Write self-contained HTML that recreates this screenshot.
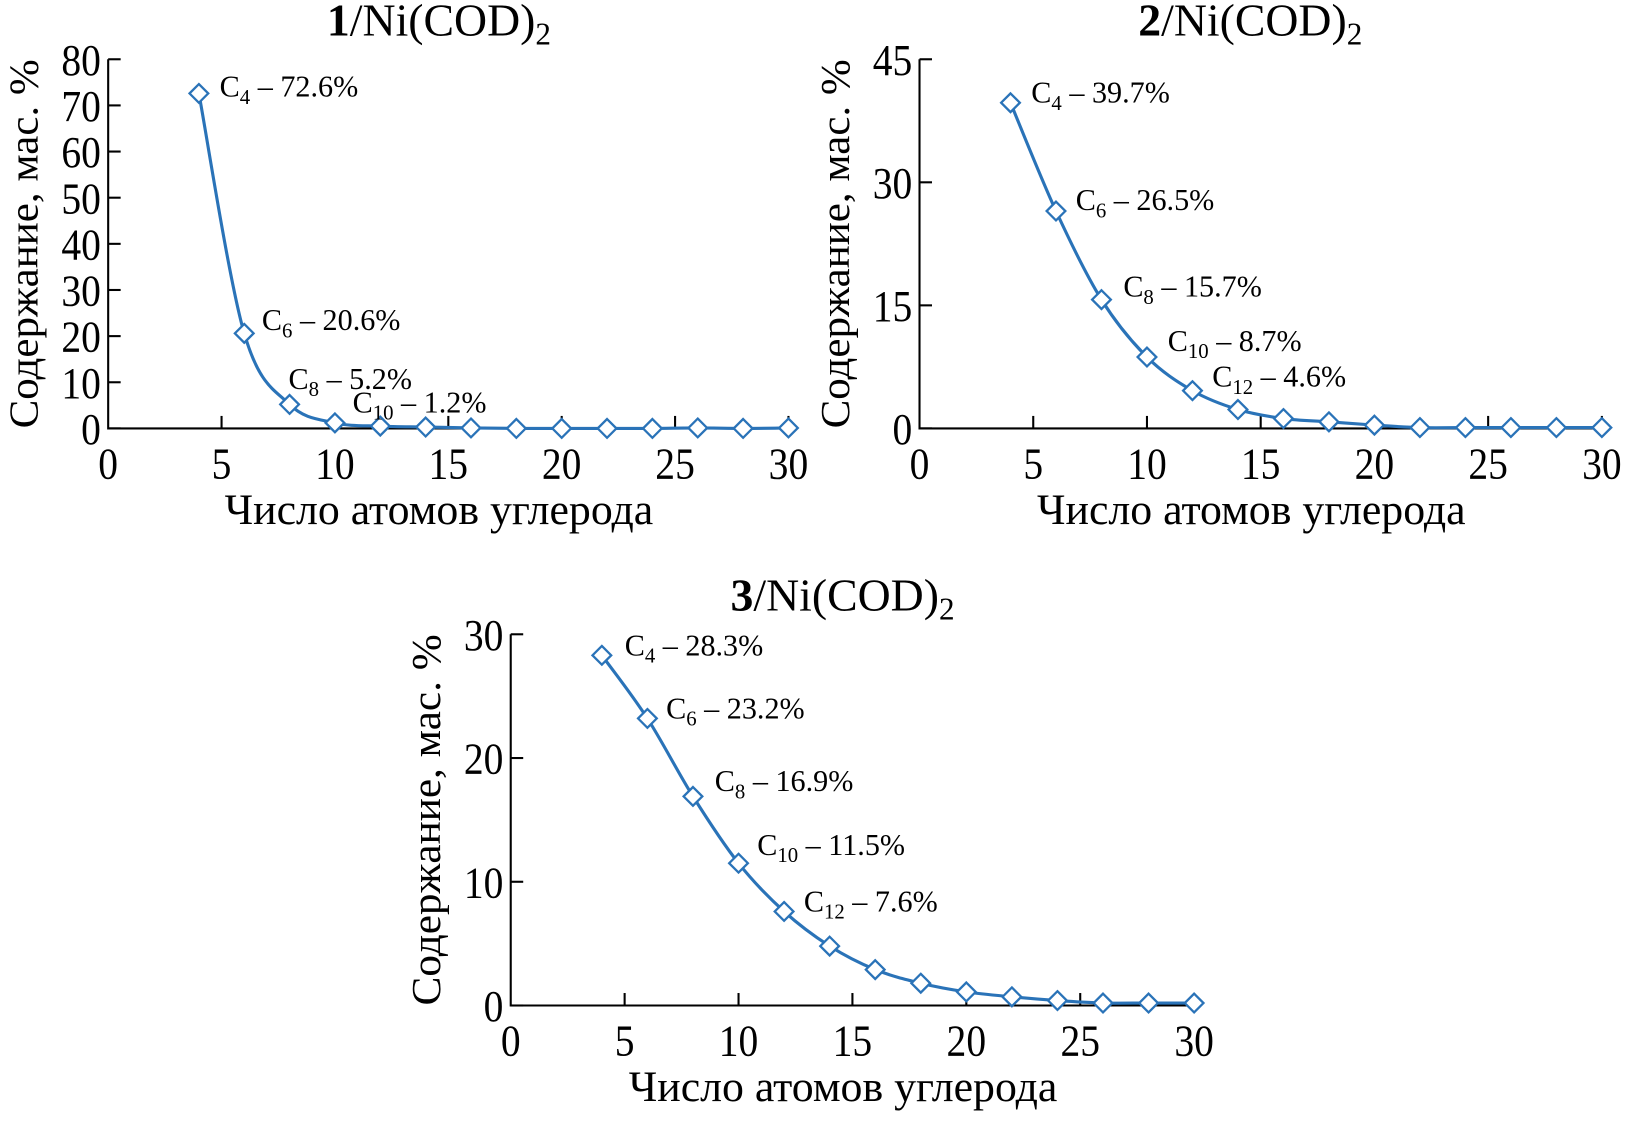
<!DOCTYPE html>
<html><head><meta charset="utf-8"><style>
html,body{margin:0;padding:0;background:#fff;}
svg{display:block;font-family:"Liberation Serif",serif;}
</style></head><body>
<svg id="fig" width="1631" height="1123" viewBox="0 0 1568 1080" preserveAspectRatio="none"></svg>
<script>
const carbonNumbers=[4,6,8,10,12,14,16,18,20,22,24,26,28,30];
const series1=[72.6,20.6,5.2,1.2,0.5,0.3,0.1,0,0,0,0,0.1,0,0.1];
const series2=[39.7,26.5,15.7,8.7,4.6,2.3,1.2,0.8,0.4,0.1,0.1,0.1,0.1,0.1];
const series3=[28.3,23.2,16.9,11.5,7.6,4.8,2.9,1.8,1.1,0.7,0.4,0.2,0.2,0.2];
const xTicks=[0,5,10,15,20,25,30];
const yTicks1=[0,10,20,30,40,50,60,70,80];
const yTicks2=[0,15,30,45];
const yTicks3=[0,10,20,30];
const labels1=[["4","72.6"],["6","20.6"],["8","5.2"],["10","1.2"]];
const labels2=[["4","39.7"],["6","26.5"],["8","15.7"],["10","8.7"],["12","4.6"]];
const labels3=[["4","28.3"],["6","23.2"],["8","16.9"],["10","11.5"],["12","7.6"]];

const NS="http://www.w3.org/2000/svg";
const svg=document.getElementById('fig');
const BLUE="#2a73b8";
function mk(tag,attrs,parent){const e=document.createElementNS(NS,tag);for(const k in attrs)e.setAttribute(k,attrs[k]);(parent||svg).appendChild(e);return e;}

const panels=[
 {id:"1",x0:104,x1:758,y0:412,yTop:57,ymax:80,ticks:yTicks1,data:series1,labels:labels1,
  offs:[[20,3],[17,-3],[-1,-15],[17,-10]],ylabX:36,titleX:422},
 {id:"2",x0:884,x1:1540,y0:412,yTop:57,ymax:45,ticks:yTicks2,data:series2,labels:labels2,
  offs:[[20,0],[19,-1],[21,-3],[20,-6],[19,-4]],ylabX:816,titleX:1202},
 {id:"3",x0:491,x1:1148,y0:967,yTop:610,ymax:30,ticks:yTicks3,data:series3,labels:labels3,
  offs:[[22,0],[18,0],[21,-5],[18,-8],[19,0]],ylabX:423,titleX:810}
];

panels.forEach(p=>{
  const g=mk('g',{});
  
  
  const xs=v=>p.x0+(v/30)*(p.x1-p.x0);
  const ys=v=>p.y0-(v/p.ymax)*(p.y0-p.yTop);
  const t=mk('text',{x:p.titleX,y:p.yTop-23,'text-anchor':'middle','font-size':44},g);
  
  
  t.innerHTML='<tspan font-weight="bold">'+p.id+'</tspan>/Ni(COD)<tspan font-size="30" dy="9">2</tspan>';
  const ax=mk('path',{d:`M${p.x0},${p.yTop} L${p.x0},${p.y0} L${p.x1+2},${p.y0}`,stroke:'#000','stroke-width':2,fill:'none'},g);
  
  
  p.ticks.forEach(v=>{
    const y=ys(v);
    const tk=mk('line',{x1:p.x0,x2:p.x0+12,y1:y,y2:y,stroke:'#000','stroke-width':2},g);
    
    
    const s=String(v);
    const tl=mk('text',{x:p.x0-7,y:y+15,'text-anchor':'end','font-size':43,textLength:s.length*19,lengthAdjust:'spacingAndGlyphs'},g);
    
    
    tl.textContent=s;
  });
  xTicks.forEach(v=>{
    const x=xs(v);
    if(v>0){const tk=mk('line',{x1:x,x2:x,y1:p.y0,y2:p.y0-12,stroke:'#000','stroke-width':2},g);
    
    }
    const s=String(v);
    const tl=mk('text',{x:x,y:p.y0+48,'text-anchor':'middle','font-size':43,textLength:s.length*19,lengthAdjust:'spacingAndGlyphs'},g);
    
    
    tl.textContent=s;
  });
  const xt=mk('text',{x:(p.x0+p.x1)/2-9,y:p.y0+92,'text-anchor':'middle','font-size':42,textLength:412,lengthAdjust:'spacingAndGlyphs'},g);
  
  
  xt.textContent='Число атомов углерода';
  const yc=(p.y0+p.yTop)/2;
  const yt=mk('text',{x:0,y:0,'text-anchor':'middle','font-size':40,textLength:p.y0-p.yTop,lengthAdjust:'spacingAndGlyphs',transform:`translate(${p.ylabX},${yc}) rotate(-90)`},g);
  
  
  yt.textContent='Содержание, мас. %';
  const pts=carbonNumbers.map((c,i)=>[xs(c),ys(p.data[i])]);
  let d=`M${pts[0][0]},${pts[0][1]}`;
  for(let i=0;i<pts.length-1;i++){
    const p0=pts[Math.max(0,i-1)],p1=pts[i],p2=pts[i+1],p3=pts[Math.min(pts.length-1,i+2)];
    const c1=[p1[0]+(p2[0]-p0[0])/6,p1[1]+(p2[1]-p0[1])/6];
    const c2=[p2[0]-(p3[0]-p1[0])/6,p2[1]-(p3[1]-p1[1])/6];
    d+=` C${c1[0]},${c1[1]} ${c2[0]},${c2[1]} ${p2[0]},${p2[1]}`;
  }
  const ln=mk('path',{d:d,stroke:BLUE,'stroke-width':3,fill:'none'},g);
  
  
  pts.forEach(pt=>{
    const s=9;
    const m=mk('path',{d:`M${pt[0]},${pt[1]-s} L${pt[0]+s},${pt[1]} L${pt[0]},${pt[1]+s} L${pt[0]-s},${pt[1]} Z`,fill:'#fff',stroke:BLUE,'stroke-width':2.2},g);
    
    
  });
  p.labels.forEach((lb,i)=>{
    const idx=carbonNumbers.indexOf(+lb[0]);
    const pt=pts[idx];
    const o=p.offs[i];
    const tx=mk('text',{x:pt[0]+o[0],y:pt[1]+o[1],'font-size':29},g);
    
    
    tx.innerHTML='C<tspan font-size="20" dy="7">'+lb[0]+'</tspan><tspan dy="-7"> – '+lb[1]+'%</tspan>';
  });
});
</script>
</body></html>
